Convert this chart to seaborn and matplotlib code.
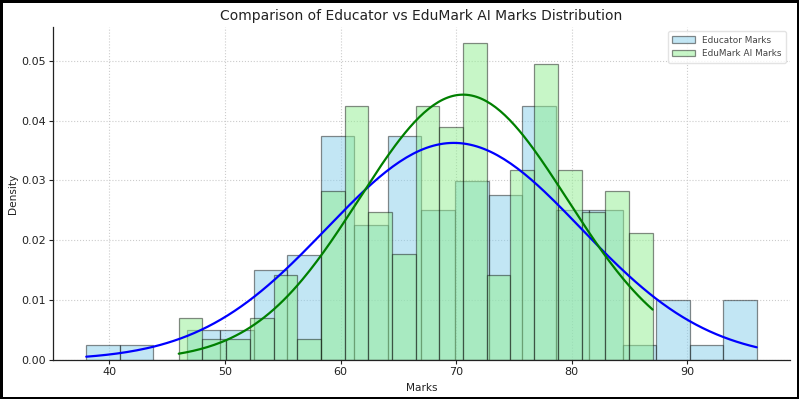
import numpy as np
import pandas as pd
import matplotlib
matplotlib.use("Agg")
import matplotlib.pyplot as plt
import seaborn as sns

# ---- data ----
edu_range = (38.0, 96.0)      # min / max of educator marks
ai_range = (46.0, 87.0)       # min / max of EduMark AI marks
edu_counts = [1, 1, 0, 2, 2, 6, 7, 15, 9, 15, 10, 12, 11, 17, 10, 10, 1, 4, 1, 4]
ai_counts = [2, 1, 1, 2, 4, 1, 8, 12, 7, 5, 12, 11, 15, 4, 9, 14, 9, 7, 8, 6]
edu_fit = (69.8, 11.0)        # normal fit (mean, sd)
ai_fit = (70.6, 9.0)          # normal fit (mean, sd)
labels = ["Educator Marks", "EduMark AI Marks"]
title = "Comparison of Educator vs EduMark AI Marks Distribution"


def samples(rng_, counts):
    edges = np.linspace(rng_[0], rng_[1], len(counts) + 1)
    centres = (edges[:-1] + edges[1:]) / 2
    return edges, np.repeat(centres, counts)


edu_edges, edu_marks = samples(edu_range, edu_counts)
ai_edges, ai_marks = samples(ai_range, ai_counts)

sns.set_theme(style="whitegrid")
plt.rcParams["font.family"] = ["DejaVu Sans"]

fig = plt.figure(figsize=(7.99, 3.99), dpi=100)
ax = fig.add_axes([0.066, 0.0977, 0.923, 0.8353])

edge = (0.0, 0.0, 0.0, 0.45)
sns.histplot(x=edu_marks, bins=edu_edges, stat="density", color="skyblue",
             alpha=0.5, edgecolor=edge, linewidth=0.9, label=labels[0], ax=ax)
sns.histplot(x=ai_marks, bins=ai_edges, stat="density", color="lightgreen",
             alpha=0.5, edgecolor=edge, linewidth=0.9, label=labels[1], ax=ax)


def normal_curve(fit, rng_):
    mu, sd = fit
    xs = np.linspace(rng_[0], rng_[1], 200)
    ys = np.exp(-0.5 * ((xs - mu) / sd) ** 2) / (sd * np.sqrt(2 * np.pi))
    return xs, ys


xs, ys = normal_curve(edu_fit, edu_range)
sns.lineplot(x=xs, y=ys, color="blue", linewidth=1.6, ax=ax)
xs, ys = normal_curve(ai_fit, ai_range)
sns.lineplot(x=xs, y=ys, color="green", linewidth=1.6, ax=ax)

ax.set_title(title, fontsize=10, color="#222222", pad=5)
ax.set_xlabel("Marks", fontsize=7.6, color="#222222", labelpad=4)
ax.set_ylabel("Density", fontsize=7.6, color="#222222", labelpad=2)
ax.tick_params(axis="both", labelsize=8, colors="#222222", length=3, width=0.8,
               direction="out", bottom=True, left=True, pad=2)
ax.set_xticks([40, 50, 60, 70, 80, 90])
ax.set_yticks([0.0, 0.01, 0.02, 0.03, 0.04, 0.05])
ax.set_yticklabels(["0.00", "0.01", "0.02", "0.03", "0.04", "0.05"])
ax.grid(True, linestyle=":", color="#cccccc", linewidth=0.8)
for s in ["top", "right"]:
    ax.spines[s].set_visible(False)
for s in ["left", "bottom"]:
    ax.spines[s].set_color("#222222")
    ax.spines[s].set_linewidth(0.9)
ax.set_facecolor("white")

handles, labs = ax.get_legend_handles_labels()
leg = ax.legend(handles[:2], labs[:2], loc="upper right", fontsize=6.4,
                frameon=True, borderpad=0.5, handlelength=2.5, labelcolor="#444444")
leg.get_frame().set_edgecolor("#dddddd")

fig.patch.set_facecolor("white")
fig.patch.set_edgecolor("black")
fig.patch.set_linewidth(3.5)
fig.savefig("out.png", dpi=100, facecolor="white", edgecolor="black")
